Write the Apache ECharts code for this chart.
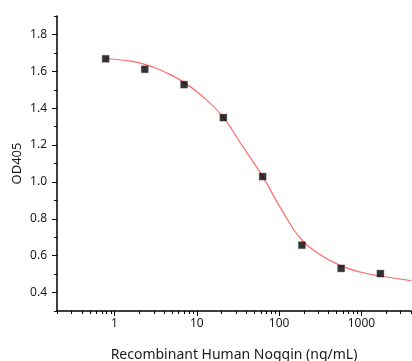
<!DOCTYPE html>
<html>
<head>
<meta charset="utf-8">
<script src="https://cdn.jsdelivr.net/npm/echarts@6/dist/echarts.min.js"></script>
<style>
  html, body { margin: 0; padding: 0; background: #fff; }
  #chart { width: 412px; height: 361px; }
</style>
</head>
<body>
<div id="chart"></div>
<script>
// measured points (3-fold dilution series)
const concentrations = [0.78, 2.33, 7, 21, 63, 189, 567, 1700]
const od405 = [1.668, 1.611, 1.528, 1.349, 1.029, 0.657, 0.531, 0.503]

// fitted curve
const fitX = [0.78, 1.29, 2.33, 4, 7, 12, 21, 34, 63, 110, 189, 330, 567, 1000, 1700, 4000]
const fitY = [1.668, 1.66, 1.638, 1.598, 1.54, 1.46, 1.35, 1.21, 1.03, 0.84, 0.685, 0.6, 0.545, 0.51, 0.49, 0.465]

// axis ticks
const xMajor = [1, 10, 100, 1000]
const xMinor = [0.2, 0.3, 0.4, 0.5, 0.6, 0.7, 0.8, 0.9,
  2, 3, 4, 5, 6, 7, 8, 9,
  20, 30, 40, 50, 60, 70, 80, 90,
  200, 300, 400, 500, 600, 700, 800, 900,
  2000, 3000, 4000]
const yMajor = [0.4, 0.6, 0.8, 1.0, 1.2, 1.4, 1.6, 1.8]
const yMinor = [0.3, 0.5, 0.7, 0.9, 1.1, 1.3, 1.5, 1.7, 1.9]

const chart = echarts.init(document.getElementById('chart'), null, { renderer: 'canvas' })

const font = '"Noto Sans", "Open Sans", sans-serif'
const ink = '#1a1a1a'

const option = {
  backgroundColor: '#fff',
  animation: false,
  grid: { left: 57, top: 16, right: 1, bottom: 50, outerBoundsMode: 'none', containLabel: false },
  xAxis: [
    {
      type: 'log',
      min: 0.2,
      max: 4000,
      name: 'Recombinant Human Noggin (ng/mL)',
      nameLocation: 'middle',
      nameGap: 37,
      nameMoveOverlap: false,
      nameTextStyle: { fontFamily: font, fontSize: 14, color: ink },
      axisLine: { show: true, onZero: false, lineStyle: { color: '#000', width: 1.5 } },
      axisTick: { show: true, inside: false, length: 5, customValues: xMajor, lineStyle: { color: '#000', width: 1 } },
      axisLabel: {
        customValues: xMajor,
        margin: 7,
        fontFamily: font, fontSize: 12, color: ink,
        formatter: v => String(Math.round(v))
      },
      splitLine: { show: false }
    },
    {
      type: 'log',
      min: 0.2,
      max: 4000,
      position: 'bottom',
      gridIndex: 0,
      axisLine: { show: false, onZero: false },
      axisTick: { show: true, inside: false, length: 3, customValues: xMinor, lineStyle: { color: '#000', width: 1 } },
      axisLabel: { show: false },
      splitLine: { show: false }
    }
  ],
  yAxis: [
    {
      type: 'value',
      min: 0.3,
      max: 1.9,
      name: 'OD405',
      nameLocation: 'middle',
      nameGap: 33,
      nameMoveOverlap: false,
      nameRotate: 90,
      nameTextStyle: { fontFamily: font, fontSize: 13, color: ink },
      axisLine: { show: true, onZero: false, lineStyle: { color: '#000', width: 1.5 } },
      axisTick: { show: true, inside: false, length: 5, customValues: yMajor, lineStyle: { color: '#000', width: 1 } },
      axisLabel: {
        customValues: yMajor,
        margin: 10,
        fontFamily: font, fontSize: 12, color: ink,
        formatter: v => v.toFixed(1)
      },
      splitLine: { show: false }
    },
    {
      type: 'value',
      min: 0.3,
      max: 1.9,
      position: 'left',
      axisLine: { show: false, onZero: false },
      axisTick: { show: true, inside: false, length: 3, customValues: yMinor, lineStyle: { color: '#000', width: 1 } },
      axisLabel: { show: false },
      splitLine: { show: false }
    }
  ],
  series: [
    {
      name: 'fit',
      type: 'line',
      xAxisIndex: 0,
      yAxisIndex: 0,
      data: fitX.map((x, i) => [x, fitY[i]]),
      smooth: 0.5,
      showSymbol: false,
      symbol: 'none',
      lineStyle: { color: '#ff6b6b', width: 1.2 },
      z: 2
    },
    {
      name: 'OD405',
      type: 'scatter',
      xAxisIndex: 0,
      yAxisIndex: 0,
      data: concentrations.map((x, i) => [x, od405[i]]),
      symbol: 'rect',
      symbolSize: 7,
      itemStyle: { color: '#000', borderColor: '#555', borderWidth: 0.5 },
      z: 3
    }
  ]
}

chart.setOption(option)
</script>
</body>
</html>
